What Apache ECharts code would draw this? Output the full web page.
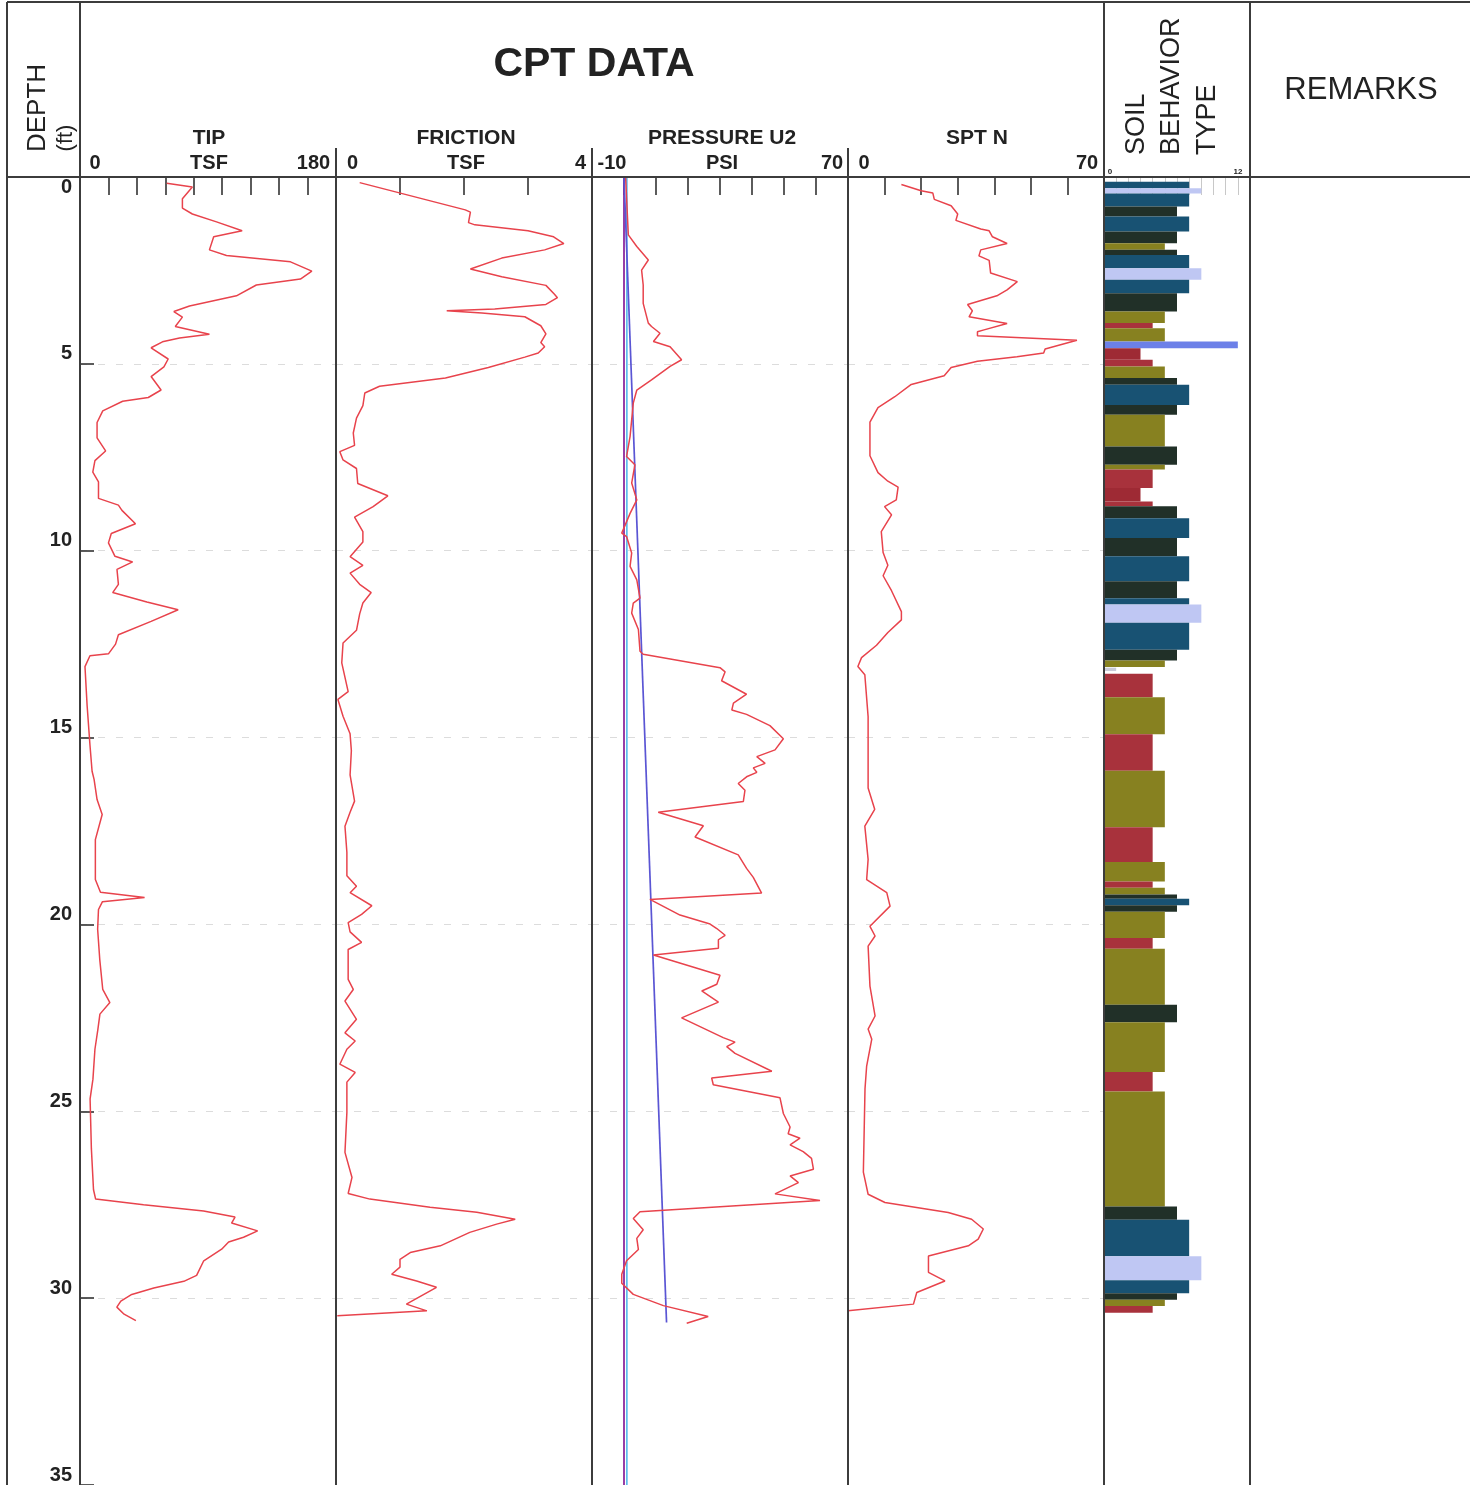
<!DOCTYPE html>
<html><head><meta charset="utf-8">
<script src="https://cdn.jsdelivr.net/npm/echarts@6/dist/echarts.min.js"></script>
<style>html,body{margin:0;padding:0;background:#fff}#c{width:1470px;height:1485px}</style>
</head><body><div id="c"></div><script>
// ---------------- DATA ----------------
var depthTicks = [0, 5, 10, 15, 20, 25, 30, 35];
var tipLabels = ['0', '180'];
var frictionLabels = ['0', '4'];
var pressureLabels = ['-10', '70'];
var sptLabels = ['0', '70'];
var sbtLabels = ['0', '12'];

var tipDepth = [0.17,0.27,0.58,0.83,0.99,1.2,1.44,1.6,1.95,2.1,2.27,2.52,2.73,2.89,3.18,3.45,3.6,3.75,4.0,4.21,4.31,4.41,4.57,4.87,5.08,5.34,5.7,5.9,6.0,6.26,6.57,6.98,7.33,7.59,7.9,8.16,8.6,8.78,8.92,9.28,9.54,9.79,10.15,10.3,10.5,10.9,11.12,11.37,11.58,11.89,12.25,12.5,12.76,12.81,13.1,14.14,15.2,15.9,16.12,16.66,17.06,17.73,18.8,19.14,19.28,19.39,19.6,20.13,20.94,21.74,22.09,22.4,22.8,23.34,24.14,24.67,26.0,27.1,27.35,27.5,27.67,27.83,27.99,28.2,28.37,28.5,28.69,29.0,29.39,29.55,29.73,29.9,30.08,30.24,30.43,30.6];
var tipValue = [61,79,72,72,79,96,114,94,91,103,148,163,155,124,110,77,66,72,67,91,70,58,50,62,59,50,57,48,30,16,12,12,18,10.5,9,13,13,27,29.5,39,22,20,24.6,37,26,27,23,47,69,50,27,25,20,7,3.5,5,7,8.5,9.9,12,15.6,10.8,10.8,14.4,45.4,15.8,13,12.4,13.9,16,21,14,12.6,10.5,9.1,7.1,8.0,9.5,11,44.7,86.9,109,106.6,124.9,115,104.5,99.6,87,82,73,51.9,36.4,28.7,25.9,31,39.3];

var frictionDepth = [0.15,0.88,0.94,1.22,1.28,1.44,1.6,1.78,1.95,2.17,2.46,2.67,2.9,3.13,3.23,3.41,3.53,3.58,3.64,3.74,3.98,4.2,4.43,4.54,4.71,4.82,5.1,5.38,5.6,5.78,6.12,6.45,6.85,7.18,7.35,7.57,7.8,8.2,8.53,8.82,9.1,9.49,9.77,10.16,10.39,10.6,10.9,11.12,11.4,11.69,12.13,12.47,13.0,13.77,13.98,14.43,14.9,15.35,16.0,16.7,17.0,17.37,18.07,18.7,18.98,19.15,19.5,19.73,19.95,20.2,20.48,20.67,21.47,21.74,22.05,22.54,22.9,23.12,23.34,23.74,23.96,24.22,25.03,26.1,26.77,27.2,27.35,27.57,27.7,27.89,28.02,28.24,28.6,28.78,28.96,29.17,29.36,29.54,29.71,30.16,30.34,30.47];
var frictionValue = [0.37,2.02,2.1,2.07,2.17,3.0,3.4,3.56,3.26,2.59,2.1,2.59,3.28,3.41,3.46,3.28,2.48,1.73,2.28,2.95,3.2,3.28,3.2,3.26,3.16,2.95,2.38,1.71,0.68,0.45,0.42,0.32,0.27,0.29,0.06,0.11,0.32,0.34,0.81,0.58,0.29,0.42,0.42,0.22,0.42,0.22,0.37,0.55,0.42,0.37,0.32,0.11,0.09,0.19,0.03,0.11,0.22,0.24,0.22,0.29,0.22,0.14,0.17,0.17,0.32,0.22,0.56,0.4,0.19,0.22,0.4,0.19,0.19,0.27,0.14,0.32,0.14,0.3,0.17,0.06,0.3,0.17,0.17,0.14,0.25,0.19,0.53,1.47,2.2,2.8,2.51,2.09,1.63,1.16,1.0,1.0,0.87,1.26,1.57,1.1,1.42,0.02];

var pressureDepth = [0,1.55,1.86,2.22,2.49,2.89,3.38,3.91,4.0,4.18,4.4,4.54,4.89,5.07,5.43,5.7,6.05,6.94,7.48,7.7,8.19,8.64,9.0,9.53,9.62,10.06,10.42,10.78,11.27,11.4,11.67,12.11,12.69,12.77,13.13,13.24,13.48,13.84,14.08,14.26,14.38,14.68,15.03,15.33,15.51,15.69,15.81,15.93,16.05,16.23,16.41,16.71,17.0,17.36,17.66,18.14,18.5,18.74,19.16,19.33,19.75,19.99,20.11,20.29,20.41,20.64,20.82,21.36,21.6,21.78,22.08,22.5,23.03,23.15,23.27,23.45,23.93,24.11,24.29,24.64,25.06,25.42,25.6,25.72,25.9,26.08,26.26,26.55,26.73,26.91,27.21,27.39,27.69,27.87,28.17,28.4,28.7,29.0,29.36,29.6,29.9,30.2,30.49,30.67];
var pressureValue = [0.5,1.35,4.0,7.6,5.5,6.0,6.0,7.6,8.6,11.25,9.2,14.4,18,14.4,8.6,4,2.9,1.9,0.8,3.4,2.4,4,1.9,-0.7,0.8,2.4,1.9,4,5,2.9,2.4,4.5,5,6,30,31.6,30.5,38.3,34.2,33.7,38.3,45.6,49.8,47.2,41.5,44.1,40.4,41.5,38.3,35.7,37.8,37.3,10.7,24.8,22.2,35.7,38.3,40.4,43,8.1,17.5,26.9,29,31.6,29.5,29.5,9.2,30,29,24.3,29.5,18,31,34.7,32.1,34.7,46.2,27.4,27.9,48.75,49.8,51.9,51.3,55,51.9,56,58.6,59.2,51.9,54.5,47.2,61.25,5,2.9,6,4,4.5,0.8,-0.7,-0.7,2.9,12.3,26.3,19.6];
// reference lines in pressure track
var zeroLineDepth = [0, 35];
var zeroLineValue = [0, 0];
var zeroLine2Value = [0.9, 0.9];
var hydroDepth = [0, 30.65];
var hydroValue = [0, 13.3];

var sptDepth = [0.2,0.37,0.43,0.6,0.77,0.99,1.16,1.39,1.44,1.6,1.78,1.95,2.11,2.23,2.57,2.8,3.02,3.18,3.41,3.58,3.74,3.92,4.09,4.14,4.25,4.37,4.6,4.71,4.81,4.93,5.1,5.32,5.55,5.88,6.17,6.56,7.46,7.91,8.14,8.3,8.64,8.82,9.04,9.49,10.05,10.39,10.67,11.07,11.63,11.85,12.19,12.53,12.86,13.1,13.32,14.44,15.35,16.35,16.92,17.37,18.26,18.8,19.15,19.51,20.05,20.31,20.58,21.65,22.45,22.8,23.07,23.79,24.4,26.63,27.22,27.44,27.71,27.89,28.15,28.42,28.6,28.87,29.31,29.54,29.85,30.16,30.34];
var sptValue = [14.6,20,23.2,23.6,28.2,30,29.5,36.3,38.6,39.5,43.5,36.3,35.8,38.6,39,46.3,43.5,40.7,32.7,34,33.1,43.5,37.2,35.4,35.4,62.6,53.9,53.5,46.2,35.4,28.2,26.3,17.3,12.8,8.2,6,6,8.2,10.9,13.7,13.2,10,11.9,9.1,9.6,10.9,9.6,11.9,14.6,14.6,10.9,7.8,3.7,2.7,4.6,5.5,5.5,5.5,7.3,4.6,5.5,5.1,10.6,11.5,6,7.4,5.5,6,7.4,5.5,6.5,5.1,4.65,4.2,5.5,10.1,27.4,33.8,37,35.6,32.9,22,22,26.5,18.8,17.9,0];

var sbtTop =    [0.13,0.3,0.44,0.79,1.06,1.46,1.77,1.95,2.09,2.44,2.75,3.11,3.6,3.91,4.05,4.4,4.58,4.89,5.07,5.38,5.56,6.1,6.36,7.21,7.7,7.83,8.32,8.68,8.81,9.13,9.66,10.15,10.82,11.27,11.44,11.93,12.65,12.94,13.13,13.29,13.92,14.91,15.89,17.4,18.33,18.85,19.02,19.2,19.31,19.49,19.66,20.36,20.65,22.15,22.62,23.95,24.47,27.55,27.9,28.88,29.52,29.87,30.04,30.21];
var sbtBottom = [0.3,0.44,0.79,1.06,1.46,1.77,1.95,2.09,2.44,2.75,3.11,3.6,3.91,4.05,4.4,4.58,4.89,5.07,5.38,5.56,6.1,6.36,7.21,7.7,7.83,8.32,8.68,8.81,9.13,9.66,10.15,10.82,11.27,11.44,11.93,12.65,12.94,13.11,13.22,13.92,14.91,15.89,17.4,18.33,18.85,19.02,19.2,19.31,19.49,19.66,20.36,20.65,22.15,22.62,23.95,24.47,27.55,27.9,28.88,29.52,29.87,30.04,30.21,30.39];
var sbtZone =   [7,8,7,6,7,6,5,6,7,8,7,6,5,4,5,11,3,4,5,6,7,6,5,6,5,4,3,4,6,7,6,7,6,7,8,7,6,5,1,4,5,4,5,4,5,4,5,6,7,6,5,4,5,6,5,4,5,6,7,8,7,6,5,4];

// ---------------- STYLE ----------------
var FONT = 'Liberation Sans, Arial, sans-serif';
var zoneColors = {1:'#c9cad8',3:'#9e2a34',4:'#a8323c',5:'#878120',6:'#213028',7:'#185273',8:'#bfc7f3',11:'#6c80e8'};
var RED = '#e8434c';
var FRAME = '#3c3c3c';
var TOP = 177, H = 1308;
var tracks = [
  {left:80, width:256, min:0, max:180, interval:20, labels:tipLabels, pad:[30,45]},
  {left:336, width:256, min:0, max:4, interval:1, labels:frictionLabels, pad:[33,23]},
  {left:592, width:256, min:-10, max:70, interval:10, labels:pressureLabels, pad:[40,32]},
  {left:848, width:256, min:0, max:70, interval:10, labels:sptLabels, pad:[32,34]},
  {left:1104, width:146, min:0, max:12, interval:1, labels:sbtLabels, pad:[12,24]}
];

function zip(a, b) { var r = []; for (var i = 0; i < a.length; i++) r.push([b[i], a[i]]); return r; }

var grids = [], xAxes = [], yAxes = [];
tracks.forEach(function (t, i) {
  grids.push({left: t.left, top: TOP, width: t.width, height: H, containLabel: false});
  var small = (i === 4);
  xAxes.push({
    type: 'value', gridIndex: i, position: 'top', min: t.min, max: t.max, interval: t.interval,
    axisLine: {show: false},
    axisTick: {show: true, inside: true, length: 18, lineStyle: {color: small ? '#c8c8c8' : '#333', width: small ? 1 : 1.6}},
    splitLine: {show: false},
    axisLabel: {
      show: true, margin: small ? 1 : 4, fontFamily: FONT, fontWeight: 'bold', color: '#222', fontSize: small ? 8 : 20,
      formatter: function (v) {
        if (v === t.min) return '{l|' + t.labels[0] + '}';
        if (v === t.max) return '{r|' + t.labels[1] + '}';
        return '';
      },
      rich: {
        l: {padding: [0, 0, 0, t.pad[0]], fontSize: small ? 8 : 20, fontWeight: 'bold', fontFamily: FONT, color: '#222'},
        r: {padding: [0, t.pad[1], 0, 0], fontSize: small ? 8 : 20, fontWeight: 'bold', fontFamily: FONT, color: '#222'}
      }
    }
  });
  yAxes.push({
    type: 'value', gridIndex: i, inverse: true, min: 0, max: 35, interval: 5, position: 'left',
    axisLine: {show: false},
    axisTick: {show: i === 0, inside: true, length: 14, lineStyle: {color: '#333', width: 1.6}},
    axisLabel: {
      show: i === 0, margin: 8, verticalAlign: 'bottom', fontFamily: FONT, fontWeight: 'bold', fontSize: 20, color: '#222',
      formatter: function (v) { return v === 0 ? '' : String(v); }
    },
    splitLine: {show: i < 4, lineStyle: {color: '#dcdcdc', type: [7, 11], width: 1}}
  });
});
// extra depth axis only for the "0" label (placed below the header line)
yAxes.push({
  type: 'value', gridIndex: 0, inverse: true, min: 0, max: 35, interval: 5, position: 'left',
  axisLine: {show: false}, axisTick: {show: false}, splitLine: {show: false},
  axisLabel: {show: true, margin: 8, verticalAlign: 'top', fontFamily: FONT, fontWeight: 'bold', fontSize: 20, color: '#222',
    formatter: function (v) { return v === 0 ? String(depthTicks[0]) : ''; }}
});

function lineSeries(x, y, data, color, width, z) {
  return {type: 'line', xAxisIndex: x, yAxisIndex: y, data: data, showSymbol: false, symbol: 'none',
    lineStyle: {color: color, width: width}, z: z || 3, animation: false, silent: true};
}

var series = [
  lineSeries(0, 0, zip(tipDepth, tipValue), RED, 1.5),
  lineSeries(1, 1, zip(frictionDepth, frictionValue), RED, 1.5),
  lineSeries(2, 2, zip(zeroLineDepth, zeroLine2Value), '#47b4ea', 1.5, 2),
  lineSeries(2, 2, zip(zeroLineDepth, zeroLineValue), '#8c2a9e', 1.8, 2),
  lineSeries(2, 2, zip(hydroDepth, hydroValue), '#5a55d4', 1.7, 2),
  lineSeries(2, 2, zip(pressureDepth, pressureValue), RED, 1.5, 4),
  lineSeries(3, 3, zip(sptDepth, sptValue), RED, 1.5),
  {
    type: 'custom', xAxisIndex: 4, yAxisIndex: 4, animation: false, silent: true,
    data: sbtTop.map(function (t, i) { return [t, sbtBottom[i], sbtZone[i]]; }),
    encode: {x: 2, y: 0},
    renderItem: function (params, api) {
      var p0 = api.coord([0, api.value(0)]);
      var p1 = api.coord([api.value(2), api.value(1)]);
      return {type: 'rect', shape: {x: p0[0] + 1, y: p0[1], width: p1[0] - p0[0] - 1, height: p1[1] - p0[1]},
        style: {fill: zoneColors[api.value(2)]}};
    }
  }
];

function ln(x1, y1, x2, y2, w) {
  return {type: 'line', shape: {x1: x1, y1: y1, x2: x2, y2: y2}, style: {stroke: FRAME, lineWidth: w || 2}, z: 10, silent: true};
}
function txt(s, x, y, font, align, rot) {
  return {type: 'text', x: x, y: y, rotation: rot || 0, z: 10, silent: true,
    style: {text: s, font: font, fill: '#222', textAlign: align || 'center', textVerticalAlign: 'middle', verticalAlign: 'middle'}};
}
var B = 1485;
var graphic = [
  ln(7, 2, 1470, 2), ln(7, TOP, 1470, TOP), ln(7, 2, 7, B),
  ln(80, 2, 80, B), ln(1104, 2, 1104, B), ln(1250, 2, 1250, B),
  ln(336, 148, 336, B), ln(592, 148, 592, B), ln(848, 148, 848, B),
  txt('CPT DATA', 594, 65, 'bold 41px ' + FONT),
  txt('TIP', 209, 138, 'bold 21px ' + FONT),
  txt('FRICTION', 466, 138, 'bold 21px ' + FONT),
  txt('PRESSURE U2', 722, 138, 'bold 21px ' + FONT),
  txt('SPT N', 977, 138, 'bold 21px ' + FONT),
  txt('TSF', 209, 163, 'bold 20px ' + FONT),
  txt('TSF', 466, 163, 'bold 20px ' + FONT),
  txt('PSI', 722, 163, 'bold 20px ' + FONT),
  txt('DEPTH', 38, 108, '26px ' + FONT, 'center', Math.PI / 2),
  txt('(ft)', 66, 138, '22px ' + FONT, 'center', Math.PI / 2),
  txt('SOIL', 1137, 155, '27px ' + FONT, 'left', Math.PI / 2),
  txt('BEHAVIOR', 1172, 155, '27px ' + FONT, 'left', Math.PI / 2),
  txt('TYPE', 1208, 155, '27px ' + FONT, 'left', Math.PI / 2),
  txt('REMARKS', 1361, 90, '31px ' + FONT)
];

var chart = echarts.init(document.getElementById('c'), null, {renderer: 'canvas'});
chart.setOption({
  animation: false, backgroundColor: '#fff',
  grid: grids, xAxis: xAxes, yAxis: yAxes, series: series, graphic: graphic
});
</script></body></html>
